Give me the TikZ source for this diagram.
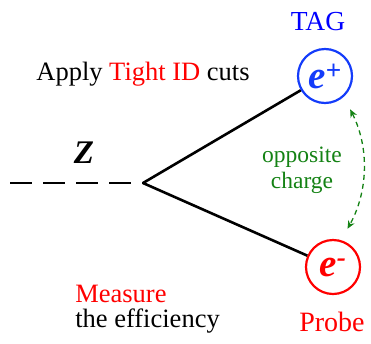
\documentclass[tikz,border=0pt]{standalone}
\usepackage{fontspec}
\setmainfont{Liberation Serif}
\usetikzlibrary{arrows.meta}
\definecolor{vert}{RGB}{20,130,20}
\definecolor{bleu}{RGB}{20,60,250}
\begin{document}
\begin{tikzpicture}[x=1pt, y=-1pt, line width=2.6pt]
\tikzstyle{particule} = [circle, line width=2.2pt, minimum size=54pt, inner sep=0pt, font=\fontsize{39}{39}\selectfont\bfseries\itshape]
\tikzstyle{texte} = [font=\fontsize{26.5}{25}\selectfont, inner sep=0pt]
\tikzstyle{charge} = [draw=vert, line width=1.3pt, dash pattern=on 5pt off 4pt, {Stealth[length=8pt,width=7pt]}-{Stealth[length=8pt,width=7pt]}]
\useasboundingbox (0,0) rectangle (371,343);
\node[texte, text=blue, font=\fontsize{27.5}{30}\selectfont] (tag) at (318,22) {TAG};
\node[particule, draw=bleu, text=bleu] (eplus) at (325,76) {e\textsuperscript{+}};
\node[particule, draw=red, text=red] (emoins) at (333,267) {e\textsuperscript{-}};
\coordinate (sommet) at (143,183);
\coordinate (depart) at (10,183);
\node[font=\fontsize{33}{33}\selectfont\bfseries\itshape, inner sep=0pt] (Z) at (84,153) {Z};
\node[texte] (cuts) at (143,74) {Apply \textcolor{red}{Tight ID} cuts};
\node[texte, text=vert, align=center, font=\fontsize{23.5}{26}\selectfont] (opp) at (302,170) {opposite\\charge};
\node[texte, align=left, anchor=west] (mesure) at (74,309) {\textcolor{red}{Measure}\\the efficiency};
\node[texte, text=red, font=\fontsize{28}{30}\selectfont] (probe) at (332,322) {Probe};
\draw[dash pattern=on 22pt off 11pt] (depart) -- (sommet);
\draw (sommet) -- (eplus);
\draw (sommet) -- (emoins);
\draw[charge, shorten <=14pt, shorten >=13pt] (eplus.-48) to[bend left=28] (emoins.73);
\end{tikzpicture}
\end{document}
